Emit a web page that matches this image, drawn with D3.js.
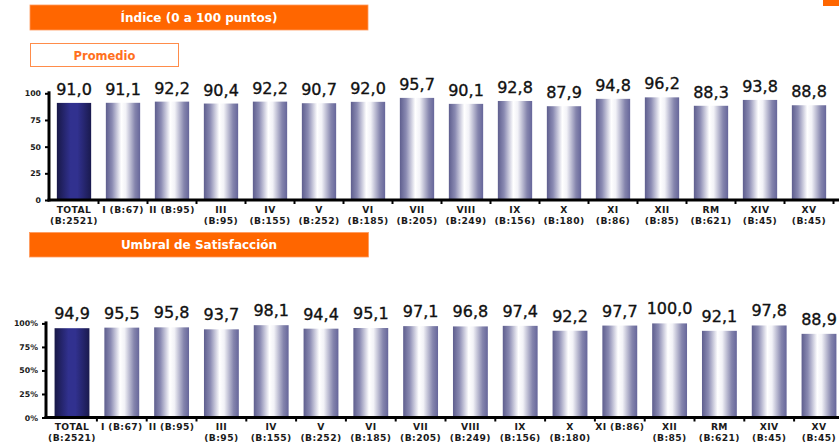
<!DOCTYPE html>
<html>
<head>
<meta charset="utf-8">
<script src="https://cdn.jsdelivr.net/npm/d3@7/dist/d3.min.js"></script>
<style>
  html, body { margin: 0; padding: 0; background: #ffffff; }
  svg { display: block; font-family: "DejaVu Sans", Verdana, sans-serif; }
</style>
</head>
<body>
<svg id="chart" width="839" height="447"></svg>
<script>
// Regions with their sample bases (line breaks where the label wraps)
const categoriesIndice = [
  "TOTAL\n(B:2521)", "I (B:67)", "II (B:95)", "III\n(B:95)", "IV\n(B:155)", "V\n(B:252)",
  "VI\n(B:185)", "VII\n(B:205)", "VIII\n(B:249)", "IX\n(B:156)", "X\n(B:180)", "XI\n(B:86)",
  "XII\n(B:85)", "RM\n(B:621)", "XIV\n(B:45)", "XV\n(B:45)"
];
const categoriesUmbral = [
  "TOTAL\n(B:2521)", "I (B:67)", "II (B:95)", "III\n(B:95)", "IV\n(B:155)", "V\n(B:252)",
  "VI\n(B:185)", "VII\n(B:205)", "VIII\n(B:249)", "IX\n(B:156)", "X\n(B:180)", "XI (B:86)",
  "XII\n(B:85)", "RM\n(B:621)", "XIV\n(B:45)", "XV\n(B:45)"
];

// Promedio del índice (0 a 100 puntos)
const promedio = [91.0, 91.1, 92.2, 90.4, 92.2, 90.7, 92.0, 95.7, 90.1, 92.8, 87.9, 94.8, 96.2, 88.3, 93.8, 88.8];
// Umbral de satisfacción (%)
const umbral = [94.9, 95.5, 95.8, 93.7, 98.1, 94.4, 95.1, 97.1, 96.8, 97.4, 92.2, 97.7, 100.0, 92.1, 97.8, 88.9];

const ticksIndice = [0, 25, 50, 75, 100];
const ticksUmbral = [0, 25, 50, 75, 100];

const ORANGE = "#ff6600";
const svg = d3.select("#chart");
const fmt = v => d3.format(".1f")(v).replace(".", ",");

// Gradients: cylinder look for the regional bars, deep navy for the total
const defs = svg.append("defs");
const gBar = defs.append("linearGradient").attr("id", "gradBar").attr("x1", "0").attr("x2", "1").attr("y1", "0").attr("y2", "0");
[["0%", "#5e5e8e"], ["18%", "#8a8ab2"], ["45%", "#ffffff"], ["58%", "#f2f2f7"], ["85%", "#8585ad"], ["100%", "#66669a"]]
  .forEach(([o, c]) => gBar.append("stop").attr("offset", o).attr("stop-color", c));
const gTot = defs.append("linearGradient").attr("id", "gradTotal").attr("x1", "0").attr("x2", "1").attr("y1", "0").attr("y2", "0");
[["0%", "#181848"], ["40%", "#31318f"], ["60%", "#31318f"], ["100%", "#1a1a4e"]]
  .forEach(([o, c]) => gTot.append("stop").attr("offset", o).attr("stop-color", c));

// Header boxes
function filledHeader(x, y, w, h, label) {
  svg.append("rect").attr("x", x).attr("y", y).attr("width", w).attr("height", h)
    .attr("fill", ORANGE).attr("stroke", "#ff9a5c").attr("stroke-width", 0.8);
  svg.append("text").attr("x", x + w / 2).attr("y", y + h / 2 + 4.3)
    .attr("text-anchor", "middle").attr("fill", "#ffffff")
    .attr("font-weight", "bold").attr("font-size", 12).text(label);
}
filledHeader(30, 5, 338, 25, "Índice (0 a 100 puntos)");
filledHeader(29.5, 232.5, 339, 24.5, "Umbral de Satisfacción");

svg.append("rect").attr("x", 30.5).attr("y", 43.5).attr("width", 148).attr("height", 23)
  .attr("fill", "#ffffff").attr("stroke", "#ff8c4a").attr("stroke-width", 1);
svg.append("text").attr("x", 104.5).attr("y", 59.5).attr("text-anchor", "middle")
  .attr("fill", "#ff7020").attr("font-weight", "bold").attr("font-size", 11.5).text("Promedio");

// Small tab in the top-right corner
svg.append("rect").attr("x", 823).attr("y", -4).attr("width", 20).attr("height", 10).attr("fill", ORANGE);

function drawPanel(opts) {
  const { cats, values, ticks, x0, x1, yTop, yBase, axisX, tickFmt, labelGap, line1, line2 } = opts;
  const x = d3.scaleBand().domain(cats).range([x0, x1]).paddingInner(0.3).paddingOuter(0.15);
  const y = d3.scaleLinear().domain([0, 100]).range([yBase, yTop]);
  const g = svg.append("g");

  // bars
  g.selectAll("rect.bar").data(values).join("rect")
    .attr("class", "bar")
    .attr("x", (d, i) => x(cats[i]))
    .attr("width", x.bandwidth())
    .attr("y", d => y(d))
    .attr("height", d => y(0) - y(d))
    .attr("fill", (d, i) => i === 0 ? "url(#gradTotal)" : "url(#gradBar)");

  // value labels
  g.selectAll("text.val").data(values).join("text")
    .attr("class", "val")
    .attr("x", (d, i) => x(cats[i]) + x.bandwidth() / 2)
    .attr("y", d => y(d) - labelGap)
    .attr("text-anchor", "middle")
    .attr("font-size", 16).attr("fill", "#111111")
    .attr("stroke", "#111111").attr("stroke-width", 0.35)
    .text(fmt);

  // y axis
  const yAxis = g.append("g").attr("transform", `translate(${axisX},0)`)
    .call(d3.axisLeft(y).tickValues(ticks).tickSize(4).tickPadding(4).tickFormat(tickFmt));
  yAxis.select(".domain").remove();
  yAxis.selectAll(".tick line").attr("stroke", "#000").attr("stroke-width", 2);
  yAxis.selectAll(".tick text").attr("font-size", 7.8).attr("font-weight", "bold")
    .attr("fill", "#1a1a1a").attr("font-family", "'DejaVu Sans', Verdana, sans-serif");
  g.append("line").attr("x1", axisX).attr("x2", axisX).attr("y1", y(100) - 2).attr("y2", yBase + 1.5)
    .attr("stroke", "#000").attr("stroke-width", 3);

  // x axis line and category boundary ticks
  g.append("line").attr("x1", axisX - 1.5).attr("x2", 839).attr("y1", yBase).attr("y2", yBase)
    .attr("stroke", "#000").attr("stroke-width", 3);
  const step = x.step();
  g.selectAll("line.sep").data(d3.range(1, cats.length + 1)).join("line")
    .attr("class", "sep")
    .attr("x1", i => x0 + i * step).attr("x2", i => x0 + i * step)
    .attr("y1", yBase).attr("y2", yBase + 4)
    .attr("stroke", "#000").attr("stroke-width", 2);

  // category labels
  const lab = g.selectAll("text.cat").data(cats).join("text")
    .attr("class", "cat")
    .attr("text-anchor", "middle")
    .attr("font-size", 9.2).attr("letter-spacing", 0.4)
    .attr("font-weight", "bold").attr("fill", "#1a1a1a");
  lab.each(function (c) {
    const lines = c.split("\n");
    const cx = x(c) + x.bandwidth() / 2;
    lines.forEach((t, k) => {
      d3.select(this).append("tspan").attr("x", cx).attr("y", k === 0 ? line1 : line2).text(t);
    });
  });
}

drawPanel({
  cats: categoriesIndice, values: promedio, ticks: ticksIndice,
  x0: 49.5, x1: 833.5, yTop: 93.3, yBase: 200, axisX: 49,
  tickFmt: d => String(d), labelGap: 8, line1: 212.5, line2: 223.5
});

drawPanel({
  cats: categoriesUmbral, values: umbral, ticks: ticksUmbral,
  x0: 47.1, x1: 843.9, yTop: 323.4, yBase: 417.5, axisX: 46,
  tickFmt: d => d + "%", labelGap: 9, line1: 430, line2: 440.5
});
</script>
</body>
</html>
